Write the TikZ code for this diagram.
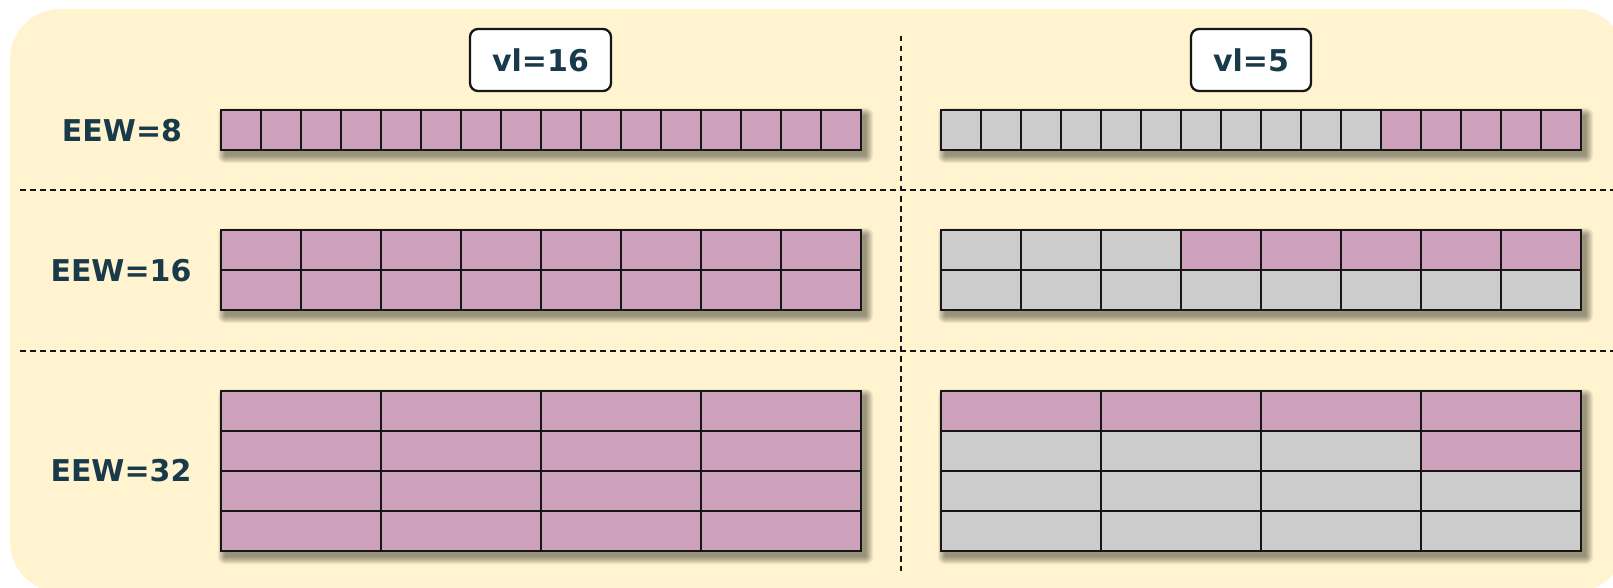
\documentclass[tikz,border=0pt]{standalone}
\usepackage{fontspec}
\setmainfont{DejaVu Sans}
\definecolor{bgyellow}{RGB}{255,244,207}
\definecolor{pinkc}{RGB}{205,160,188}
\definecolor{greyc}{RGB}{204,204,204}
\definecolor{txtc}{RGB}{24,58,74}
\definecolor{linec}{RGB}{22,22,22}
\tikzset{
  cell/.style={draw=linec, line width=2.3pt, inner sep=0pt, outer sep=0pt, anchor=north west},
  c8/.style={cell, minimum width=40pt, minimum height=40pt},
  c16/.style={cell, minimum width=80pt, minimum height=40pt},
  c32/.style={cell, minimum width=160pt, minimum height=40pt},
  eewlabel/.style={text=txtc, font=\fontsize{30}{36}\selectfont\bfseries, inner sep=0pt},
  vlbox/.style={draw=linec, fill=white, line width=2.3pt, rounded corners=8pt, minimum height=62pt,
     text=txtc, font=\fontsize{30}{36}\selectfont\bfseries, inner sep=0pt},
  divider/.style={draw=linec, line width=2.3pt, dash pattern=on 5.5pt off 4.5pt},
}
\newcommand{\blockshadow}[4]{%
  \foreach \s in {0,1,2,3,4,5,6,7}{%
    \fill[black, opacity=0.06, rounded corners=\s pt] (#1+4-\s,#2+5-\s) rectangle (#3+5+\s,#4+6+\s);
  }%
}
\begin{document}
\begin{tikzpicture}[x=1pt,y=-1pt]
\useasboundingbox (0,0) rectangle (1613,588);
\fill[bgyellow, rounded corners=50pt] (10,9) rectangle (1625,592);

% dividers
\coordinate (hl1) at (20,190);   \coordinate (hr1) at (1613,190);
\coordinate (hl2) at (20,351);   \coordinate (hr2) at (1613,351);
\coordinate (vt) at (901,36);    \coordinate (vb) at (901,571);
\draw[divider] (hl1) -- (hr1);
\draw[divider] (hl2) -- (hr2);
\draw[divider] (vt) -- (vb);

% shadows
\blockshadow{221}{110}{861}{150}
\blockshadow{941}{110}{1581}{150}
\blockshadow{221}{230}{861}{310}
\blockshadow{941}{230}{1581}{310}
\blockshadow{221}{391}{861}{551}
\blockshadow{941}{391}{1581}{551}

% headers
\node[vlbox, minimum width=141pt] (vl16) at (540.5,60) {vl=16};
\node[vlbox, minimum width=120pt] (vl5) at (1251,60) {vl=5};

% labels
\node[eewlabel] (e8) at (122,131) {EEW=8};
\node[eewlabel] (e16) at (121,271) {EEW=16};
\node[eewlabel] (e32) at (121,471) {EEW=32};

% EEW=8
\foreach \i in {0,...,15}{
  \node[c8, fill=pinkc] (L8-\i) at (221+40*\i,110) {};
  \ifnum\i<11 \def\cc{greyc}\else\def\cc{pinkc}\fi
  \node[c8, fill=\cc] (R8-\i) at (941+40*\i,110) {};
}
% EEW=16
\foreach \j in {0,1}{
  \foreach \i in {0,...,7}{
    \node[c16, fill=pinkc] (L16-\j-\i) at (221+80*\i,230+40*\j) {};
    \def\cc{greyc}
    \ifnum\j=0 \ifnum\i>2 \def\cc{pinkc}\fi\fi
    \node[c16, fill=\cc] (R16-\j-\i) at (941+80*\i,230+40*\j) {};
  }
}
% EEW=32
\foreach \j in {0,...,3}{
  \foreach \i in {0,...,3}{
    \node[c32, fill=pinkc] (L32-\j-\i) at (221+160*\i,391+40*\j) {};
    \def\cc{greyc}
    \ifnum\j=0 \def\cc{pinkc}\fi
    \ifnum\j=1 \ifnum\i=3 \def\cc{pinkc}\fi\fi
    \node[c32, fill=\cc] (R32-\j-\i) at (941+160*\i,391+40*\j) {};
  }
}
\end{tikzpicture}
\end{document}
